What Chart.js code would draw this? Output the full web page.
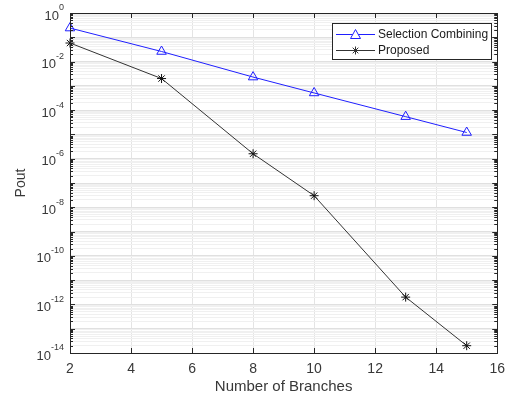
<!DOCTYPE html>
<html>
<head>
<meta charset="utf-8">
<script src="https://cdn.jsdelivr.net/npm/chart.js@4/dist/chart.umd.min.js"></script>
<style>
  html, body { margin: 0; background: #fff; }
  #wrap { width: 513px; height: 400px; }
</style>
</head>
<body>
<div id="wrap"><canvas id="chart"></canvas></div>
<script>
// data
const branches = [2, 5, 8, 10, 13, 15];
const selectionCombining = [0.24, 0.026, 2.3e-3, 5.1e-4, 5.4e-5, 1.2e-5];
const proposed = [0.058, 2e-3, 1.6e-6, 3e-8, 2e-12, 2e-14];
const xTicks = [2, 4, 6, 8, 10, 12, 14, 16];
const yLabelExponents = [0, -2, -4, -6, -8, -10, -12, -14];
const seriesNames = ['Selection Combining', 'Proposed'];

const FONT = 'Liberation Sans, Arial, Helvetica, sans-serif';
const TEXT = '#383838';

function isDecade(v) {
    const l = Math.log10(v);
    return Math.abs(l - Math.round(l)) < 1e-9;
}

// MATLAB-like frame, inward ticks, superscript labels and legend
const matlabLook = {
    id: 'matlabLook',
    afterDraw(chart) {
        const ctx = chart.ctx;
        const a = chart.chartArea;
        const xs = chart.scales.x, ys = chart.scales.y;
        ctx.save();

        // inward tick marks
        ctx.strokeStyle = '#262626';
        ctx.lineWidth = 1;
        ctx.beginPath();
        xTicks.forEach(t => {
            const px = Math.round(xs.getPixelForValue(t)) + 0.5;
            ctx.moveTo(px, a.bottom); ctx.lineTo(px, a.bottom - 5);
            ctx.moveTo(px, a.top); ctx.lineTo(px, a.top + 5);
        });
        ys.ticks.forEach(t => {
            const py = Math.round(ys.getPixelForValue(t.value)) + 0.5;
            const len = isDecade(t.value) ? 5 : 3;
            ctx.moveTo(a.left, py); ctx.lineTo(a.left + len, py);
            ctx.moveTo(a.right, py); ctx.lineTo(a.right - len, py);
        });
        ctx.stroke();

        // box
        ctx.strokeRect(Math.round(a.left) + 0.5, Math.round(a.top) + 0.5,
            Math.round(a.right - a.left), Math.round(a.bottom - a.top));

        // y tick labels 10^e
        ctx.fillStyle = TEXT;
        ctx.textBaseline = 'middle';
        yLabelExponents.forEach(e => {
            const py = ys.getPixelForValue(Math.pow(10, e));
            const exp = String(e);
            ctx.font = '9px ' + FONT;
            const ew = ctx.measureText(exp).width;
            const right = a.left - 6;
            ctx.textAlign = 'left';
            ctx.fillText(exp, right - ew, py - 5);
            ctx.font = '13px ' + FONT;
            ctx.textAlign = 'right';
            ctx.fillText('10', right - ew, py + 3);
        });

        // legend
        const lx = 332, ly = 23, lw = 159, lh = 36;
        ctx.fillStyle = '#fff';
        ctx.fillRect(lx, ly, lw, lh);
        ctx.strokeStyle = '#262626';
        ctx.strokeRect(lx + 0.5, ly + 0.5, lw, lh);
        chart.data.datasets.forEach((ds, i) => {
            const y = ly + 11.5 + i * 16;
            ctx.strokeStyle = ds.borderColor;
            ctx.lineWidth = 1;
            ctx.beginPath();
            ctx.moveTo(lx + 4, y); ctx.lineTo(lx + 43, y);
            ctx.stroke();
            const cx = lx + 23.5;
            ctx.beginPath();
            if (ds.pointStyle === 'triangle') {
                ctx.moveTo(cx, y - 5); ctx.lineTo(cx + 5, y + 4); ctx.lineTo(cx - 5, y + 4);
                ctx.closePath();
                ctx.fillStyle = '#fff';
                ctx.fill();
            } else {
                const r = 4;
                ctx.moveTo(cx - r, y); ctx.lineTo(cx + r, y);
                ctx.moveTo(cx, y - r); ctx.lineTo(cx, y + r);
                const d = r * 0.707;
                ctx.moveTo(cx - d, y - d); ctx.lineTo(cx + d, y + d);
                ctx.moveTo(cx - d, y + d); ctx.lineTo(cx + d, y - d);
            }
            ctx.stroke();
            ctx.fillStyle = '#1a1a1a';
            ctx.font = '12px ' + FONT;
            ctx.textAlign = 'left';
            ctx.textBaseline = 'middle';
            ctx.fillText(ds.label, lx + 46, y + 0.5);
        });
        ctx.restore();
    }
};

new Chart(document.getElementById('chart'), {
    type: 'line',
    data: {
        datasets: [{
            label: seriesNames[0],
            data: branches.map((x, i) => ({ x: x, y: selectionCombining[i] })),
            borderColor: '#1f1fff',
            borderWidth: 1,
            pointStyle: 'triangle',
            pointRadius: 5.5,
            pointBorderWidth: 1,
            pointBackgroundColor: 'rgba(0,0,0,0)',
            pointBorderColor: '#1f1fff',
            clip: false,
            tension: 0
        }, {
            label: seriesNames[1],
            data: branches.map((x, i) => ({ x: x, y: proposed[i] })),
            borderColor: '#333333',
            borderWidth: 1,
            pointStyle: 'star',
            pointRadius: 4.5,
            pointBorderWidth: 1,
            pointBorderColor: '#111',
            pointBackgroundColor: '#111',
            clip: false,
            tension: 0
        }]
    },
    options: {
        responsive: true,
        maintainAspectRatio: false,
        animation: false,
        layout: { padding: { top: 13, right: 13, left: 0, bottom: 0 } },
        plugins: { legend: { display: false }, tooltip: { enabled: false } },
        scales: {
            x: {
                type: 'linear',
                min: 2,
                max: 16,
                afterBuildTicks: s => { s.ticks = xTicks.map(v => ({ value: v })); },
                afterFit: s => { s.height = 47; },
                ticks: { color: TEXT, font: { family: FONT, size: 14 }, padding: 8 },
                grid: { color: '#e4e4e4', drawTicks: false },
                border: { color: '#262626' },
                title: {
                    display: true, text: 'Number of Branches', color: TEXT,
                    font: { family: FONT, size: 15 }, padding: { top: 2, bottom: 4 }
                }
            },
            y: {
                type: 'logarithmic',
                min: 1e-14,
                max: 1,
                afterBuildTicks: s => {
                    const t = [];
                    for (let e = -14; e <= 0; e++) {
                        for (let m = 1; m <= 9; m++) {
                            const v = m * Math.pow(10, e);
                            if (v <= 1.0000001) t.push({ value: v });
                        }
                    }
                    s.ticks = t;
                },
                afterFit: s => { s.width = 70; },
                ticks: { display: false },
                grid: {
                    drawTicks: false,
                    color: c => (c.tick && isDecade(c.tick.value)) ? '#e0e0e0' : '#f0f0f0'
                },
                border: { color: '#262626' },
                title: {
                    display: true, text: 'Pout', color: TEXT,
                    font: { family: FONT, size: 14 }, padding: { top: 13, bottom: 0 }
                }
            }
        }
    },
    plugins: [matlabLook]
});
</script>
</body>
</html>
